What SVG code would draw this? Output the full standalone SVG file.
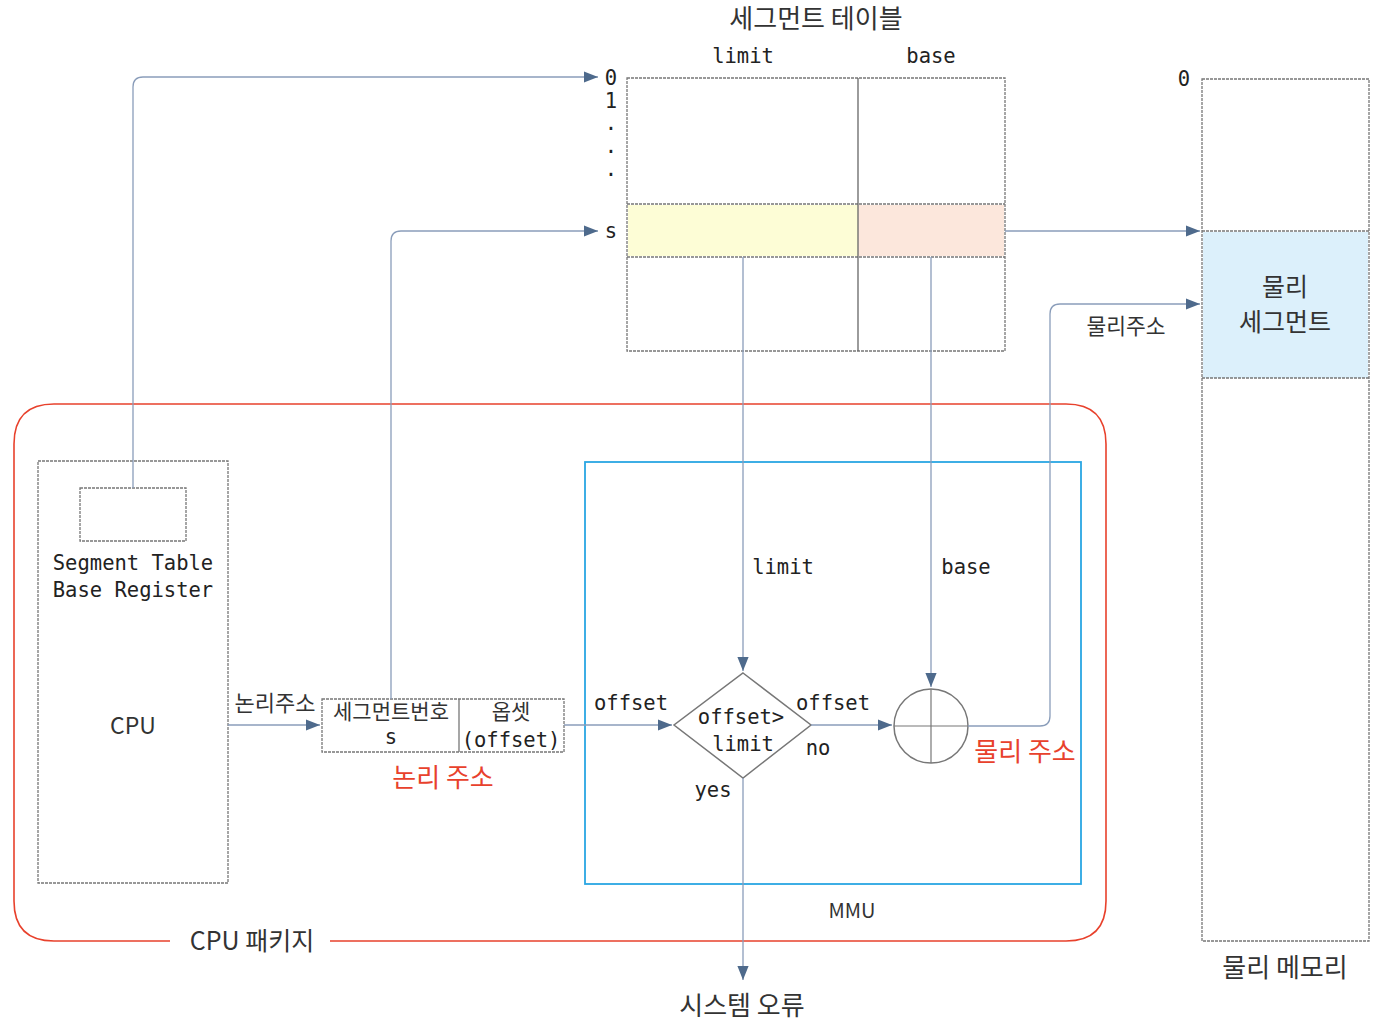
<svg xmlns="http://www.w3.org/2000/svg" width="1386" height="1026" viewBox="0 0 1386 1026">
<style>
.mono{font-family:"DejaVu Sans Mono","Liberation Mono",monospace;font-size:20.5px;fill:#222}
.kr{font-family:"Noto Sans CJK KR","Noto Sans",sans-serif;fill:#333}
.red{fill:#e8412c}
.box{fill:#fff;stroke:#777;stroke-width:1.3;stroke-dasharray:3 1}
.ln{fill:none;stroke:#8a9dba;stroke-width:1.3}
</style>
<defs>
<marker id="ah" viewBox="0 0 10 10" refX="10" refY="5" markerWidth="14" markerHeight="14" markerUnits="userSpaceOnUse" orient="auto">
<path d="M0,1 L10,5 L0,9 z" fill="#4e6a8c"/>
</marker>
</defs>
<rect width="1386" height="1026" fill="#fff"/>

<g id="segment-table">
<text class="kr" x="816" y="28" font-size="26" text-anchor="middle">세그먼트 테이블</text>
<text class="mono" x="743" y="63" text-anchor="middle">limit</text>
<text class="mono" x="931" y="63" text-anchor="middle">base</text>
<rect class="box" x="627" y="78" width="378" height="273"/>
<rect x="628" y="205" width="230" height="51" fill="#fdfdd6"/>
<rect x="858" y="205" width="146" height="51" fill="#fce7dc"/>
<line x1="627" y1="204" x2="1005" y2="204" stroke="#777" stroke-width="1.3" stroke-dasharray="3 1"/>
<line x1="627" y1="257" x2="1005" y2="257" stroke="#777" stroke-width="1.3" stroke-dasharray="3 1"/>
<line x1="858" y1="78" x2="858" y2="351" stroke="#666" stroke-width="1.3"/>
<text class="mono" x="611" y="85" text-anchor="middle">0</text>
<text class="mono" x="611" y="108" text-anchor="middle">1</text>
<text class="mono" x="611" y="130" text-anchor="middle">.</text>
<text class="mono" x="611" y="153" text-anchor="middle">.</text>
<text class="mono" x="611" y="176" text-anchor="middle">.</text>
<text class="mono" x="611" y="238" text-anchor="middle">s</text>
</g>

<g id="physical-memory">
<rect class="box" x="1202" y="79" width="167" height="862"/>
<rect x="1203" y="232" width="165" height="146" fill="#dcf0fb"/>
<line x1="1202" y1="231" x2="1369" y2="231" stroke="#777" stroke-width="1.3" stroke-dasharray="3 1"/>
<line x1="1202" y1="378" x2="1369" y2="378" stroke="#777" stroke-width="1.3" stroke-dasharray="3 1"/>
<text class="mono" x="1184" y="86" text-anchor="middle">0</text>
<text class="kr" x="1285" y="296" font-size="25" text-anchor="middle">물리</text>
<text class="kr" x="1285" y="331" font-size="25" text-anchor="middle">세그먼트</text>
<text class="kr" x="1285" y="977" font-size="26" text-anchor="middle">물리 메모리</text>
</g>

<g id="cpu-package">
<path d="M170,941 H54 Q14,941 14,901 V444 Q14,404 54,404 H1066 Q1106,404 1106,444 V901 Q1106,941 1066,941 H330" fill="none" stroke="#e8412c" stroke-width="1.6"/>
<text class="kr" x="252" y="950" font-size="25" text-anchor="middle">CPU 패키지</text>
</g>

<g id="cpu">
<rect class="box" x="38" y="461" width="190" height="422"/>
<rect class="box" x="80" y="488" width="106" height="53"/>
<text class="mono" x="133" y="570" text-anchor="middle">Segment Table</text>
<text class="mono" x="133" y="597" text-anchor="middle">Base Register</text>
<text class="kr" x="133" y="734" font-size="23" text-anchor="middle">CPU</text>
</g>

<g id="logical-address">
<rect class="box" x="322" y="699" width="242" height="53"/>
<line x1="459" y1="699" x2="459" y2="752" stroke="#777" stroke-width="1.3"/>
<text class="kr" x="391" y="719" font-size="21" text-anchor="middle">세그먼트번호</text>
<text class="mono" x="391" y="744" text-anchor="middle">s</text>
<text class="kr" x="511" y="719" font-size="21" text-anchor="middle">옵셋</text>
<text class="mono" x="511" y="747" text-anchor="middle">(offset)</text>
<text class="kr red" x="443" y="787" font-size="26" text-anchor="middle">논리 주소</text>
</g>

<g id="mmu">
<rect x="585" y="462" width="496" height="422" fill="none" stroke="#2aa6e3" stroke-width="1.8"/>
<text class="kr" x="852" y="918" font-size="20" text-anchor="middle">MMU</text>
</g>

<g id="compare">
<polygon points="743,673 811,725 743,778 674,725" fill="#fff" stroke="#777" stroke-width="1.5"/>
<text class="mono" x="741" y="724" text-anchor="middle">offset&gt;</text>
<text class="mono" x="743" y="751" text-anchor="middle">limit</text>
</g>

<g id="adder">
<circle cx="931" cy="726" r="37" fill="#fff" stroke="#777" stroke-width="1.5"/>
<line x1="894" y1="726" x2="968" y2="726" stroke="#777" stroke-width="1.2"/>
<line x1="931" y1="689" x2="931" y2="763" stroke="#777" stroke-width="1.2"/>
<text class="kr red" x="1025" y="761" font-size="26" text-anchor="middle">물리 주소</text>
</g>

<g id="system-error">
<text class="kr" x="742" y="1015" font-size="26" text-anchor="middle">시스템 오류</text>
</g>

<g id="connectors">
<path class="ln" d="M133,488 V87 Q133,77 143,77 H598" marker-end="url(#ah)"/>
<path class="ln" d="M391,699 V241 Q391,231 401,231 H598" marker-end="url(#ah)"/>
<path class="ln" d="M1005,231 H1200" marker-end="url(#ah)"/>
<path class="ln" d="M228,725 H320" marker-end="url(#ah)"/>
<text class="kr" x="275" y="711" font-size="22" text-anchor="middle">논리주소</text>
<path class="ln" d="M564,725 H672" marker-end="url(#ah)"/>
<text class="mono" x="631" y="710" text-anchor="middle">offset</text>
<path class="ln" d="M743,257 V671" marker-end="url(#ah)"/>
<text class="mono" x="783" y="574" text-anchor="middle">limit</text>
<path class="ln" d="M931,257 V687" marker-end="url(#ah)"/>
<text class="mono" x="966" y="574" text-anchor="middle">base</text>
<path class="ln" d="M811,725 H892" marker-end="url(#ah)"/>
<text class="mono" x="833" y="710" text-anchor="middle">offset</text>
<text class="mono" x="818" y="755" text-anchor="middle">no</text>
<path class="ln" d="M968,726 H1040 Q1050,726 1050,716 V314 Q1050,304 1060,304 H1200" marker-end="url(#ah)"/>
<text class="kr" x="1126" y="334" font-size="21.5" text-anchor="middle">물리주소</text>
<path class="ln" d="M743,778 V980" marker-end="url(#ah)"/>
<text class="mono" x="713" y="797" text-anchor="middle">yes</text>
</g>
</svg>
